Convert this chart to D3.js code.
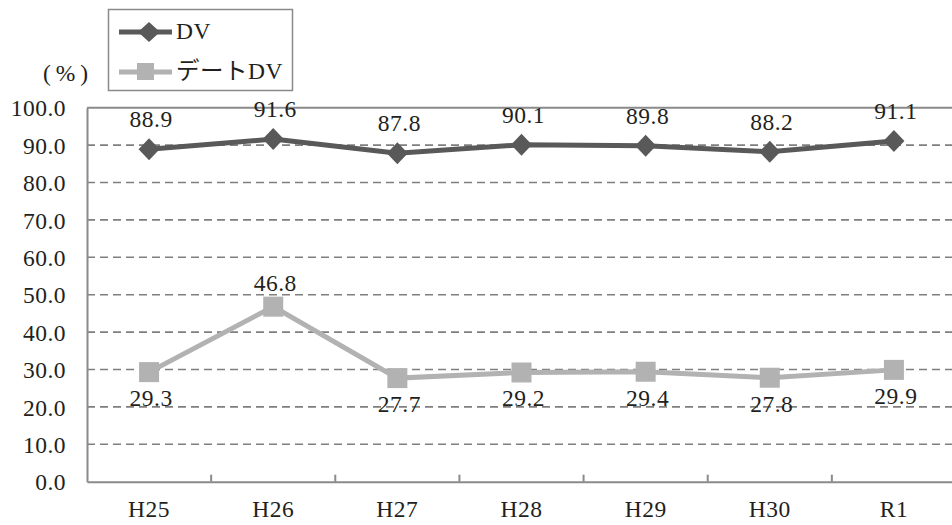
<!DOCTYPE html>
<html><head><meta charset="utf-8">
<script src="https://cdn.jsdelivr.net/npm/d3@7"></script>
<style>
html,body{margin:0;padding:0;background:#fff;overflow:hidden}
</style></head><body>
<svg id="c" width="952" height="525"></svg>
<script>
const categories = ["H25","H26","H27","H28","H29","H30","R1"];
const dvValues = [88.9, 91.6, 87.8, 90.1, 89.8, 88.2, 91.1];
const dateDvValues = [29.3, 46.8, 27.7, 29.2, 29.4, 27.8, 29.9];
const yTicks = [0,10,20,30,40,50,60,70,80,90,100];
const seriesNames = ["DV","デートDV"];

const FONT = "'Liberation Serif','Noto Sans CJK JP',serif";
const FS = 23.5;
const svg = d3.select("#c");
const L = 87, R = 956, T = 107.7, B = 481.7;
const x = d3.scaleBand().domain(categories).range([L, R]);
const y = d3.scaleLinear().domain([0,100]).range([B, T]);
const cx = d => x(d) + x.bandwidth()/2;
function styleText(sel, ls){
  sel.attr("style",`font-family:${FONT};font-size:${FS}px;letter-spacing:${ls==null?0.5:ls}px;fill:#231f20`);
}

// gridlines
svg.append("g").selectAll("line").data(yTicks.filter(t=>t>0 && t<100)).join("line")
  .attr("x1", L).attr("x2", R).attr("y1", d=>y(d)).attr("y2", d=>y(d))
  .attr("stroke","#7f7f7f").attr("stroke-width",1.6).attr("stroke-dasharray","8,5");

// plot border top
svg.append("line").attr("x1",L).attr("x2",R).attr("y1",T).attr("y2",T)
  .attr("stroke","#8a8a8a").attr("stroke-width",2);

// y axis
const yAxis = svg.append("g").attr("transform",`translate(${L},0)`)
  .call(d3.axisLeft(y).tickValues(yTicks).tickSize(0).tickPadding(21).tickFormat(d3.format(".1f")));
yAxis.select(".domain").attr("stroke","#8a8a8a").attr("stroke-width",2);
yAxis.selectAll("text").call(styleText).attr("dy","0.35em");

// x axis
const xAxis = svg.append("g").attr("transform",`translate(0,${B})`)
  .call(d3.axisBottom(x).tickSize(0).tickPadding(19));
xAxis.select(".domain").attr("stroke","#8a8a8a").attr("stroke-width",2);
xAxis.selectAll("text").call(styleText);
// tick marks between categories
svg.append("g").selectAll("line").data(categories.slice(1)).join("line")
  .attr("x1",d=>x(d)).attr("x2",d=>x(d)).attr("y1",B).attr("y2",B-7)
  .attr("stroke","#8a8a8a").attr("stroke-width",2);

const line = d3.line().x((d,i)=>cx(categories[i])).y(d=>y(d));

// date DV series
svg.append("path").datum(dateDvValues).attr("d",line).attr("fill","none")
  .attr("stroke","#b2b2b2").attr("stroke-width",5);
const sq = 20;
svg.append("g").selectAll("rect").data(dateDvValues).join("rect")
  .attr("x",(d,i)=>cx(categories[i])-sq/2).attr("y",d=>y(d)-sq/2)
  .attr("width",sq).attr("height",sq).attr("fill","#b2b2b2");

// DV series
svg.append("path").datum(dvValues).attr("d",line).attr("fill","none")
  .attr("stroke","#595959").attr("stroke-width",5);
const dmx = 10.5, dmy = 11;
svg.append("g").selectAll("path").data(dvValues).join("path")
  .attr("transform",(d,i)=>`translate(${cx(categories[i])},${y(d)})`)
  .attr("d",`M0,${-dmy}L${dmx},0L0,${dmy}L${-dmx},0Z`).attr("fill","#595959");

// labels
svg.append("g").selectAll("text").data(dvValues).join("text")
  .attr("x",(d,i)=>cx(categories[i])+2).attr("y",d=>y(d)-22)
  .attr("text-anchor","middle").call(styleText).text(d=>d.toFixed(1));
svg.append("g").selectAll("text").data(dateDvValues).join("text")
  .attr("x",(d,i)=>cx(categories[i])+2).attr("y",(d,i)=> i===1 ? y(d)-16 : y(d)+34)
  .attr("text-anchor","middle").call(styleText).text(d=>d.toFixed(1));

// % label
svg.append("text").attr("x",68).attr("y",81).attr("text-anchor","middle")
  .call(styleText, 5).text("(%)");

// legend
const lg = svg.append("g");
lg.append("rect").attr("x",108.5).attr("y",9.5).attr("width",184).attr("height",81)
  .attr("fill","#fff").attr("stroke","#8a8a8a").attr("stroke-width",1.5);
lg.append("line").attr("x1",119).attr("x2",172).attr("y1",32).attr("y2",32)
  .attr("stroke","#595959").attr("stroke-width",5);
lg.append("path").attr("transform","translate(149,32)")
  .attr("d",`M0,-10L11,0L0,10L-11,0Z`).attr("fill","#595959");
lg.append("text").attr("x",176).attr("y",39).call(styleText).text(seriesNames[0]);
lg.append("line").attr("x1",119).attr("x2",172).attr("y1",72).attr("y2",72)
  .attr("stroke","#b2b2b2").attr("stroke-width",5);
lg.append("rect").attr("x",137).attr("y",63).attr("width",17).attr("height",17).attr("fill","#b2b2b2");
lg.append("text").attr("x",176).attr("y",79).call(styleText).text(seriesNames[1]);
</script>
</body></html>
